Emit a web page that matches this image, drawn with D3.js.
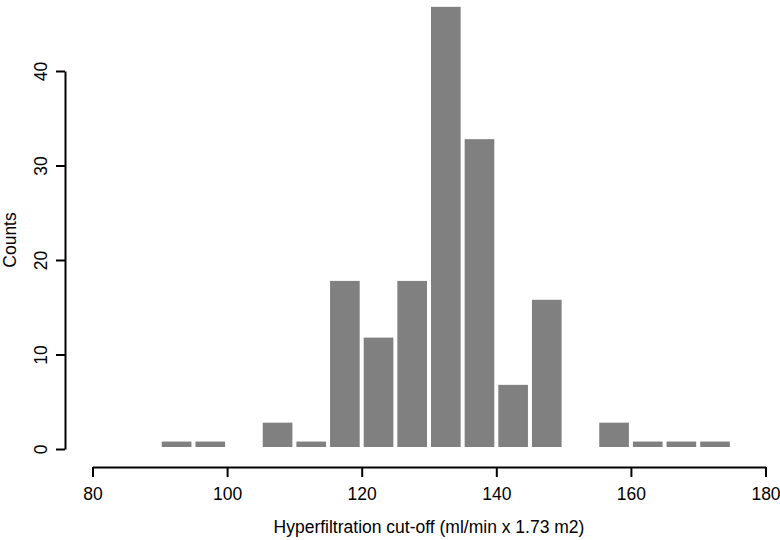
<!DOCTYPE html>
<html lang="en">
<head>
    <meta charset="UTF-8">
    <title>Hyperfiltration cut-off histogram</title>
    <script src="https://d3js.org/d3.v7.min.js"></script>
    <style>
        body {
            margin: 0;
            padding: 0;
            background: #fff;
            font-family: 'Liberation Sans', Arial, sans-serif;
        }
        .axis text {
            font-family: 'Liberation Sans', Arial, sans-serif;
            font-size: 17.5px;
            fill: #000;
        }
    </style>
</head>
<body>
    <script>
        // Datos del histograma (bins de 5 unidades)
        const binStarts = [90, 95, 100, 105, 110, 115, 120, 125, 130, 135, 140, 145, 150, 155, 160, 165, 170];
        const counts = [1, 1, 0, 3, 1, 18, 12, 18, 47, 33, 7, 16, 0, 3, 1, 1, 1];
        const binWidth = 5;
        const xTicks = [80, 100, 120, 140, 160, 180];
        const yTicks = [0, 10, 20, 30, 40];

        const width = 780;
        const height = 540;

        const svg = d3.select("body")
            .append("svg")
            .attr("width", width)
            .attr("height", height);

        // Escalas
        const x = d3.scaleLinear().domain([80, 180]).range([92.5, 765.5]);
        const y = d3.scaleLinear().domain([0, 40]).range([449, 71]);

        const bins = binStarts.map((b, i) => ({ x0: b, x1: b + binWidth, n: counts[i] }));

        // Barras
        svg.append("g")
            .selectAll("rect")
            .data(bins.filter(d => d.n > 0))
            .enter()
            .append("rect")
            .attr("x", d => x(d.x0) + 2)
            .attr("width", d => x(d.x1) - x(d.x0) - 4)
            .attr("y", d => y(d.n) + 2)
            .attr("height", d => y(0) - y(d.n) - 4)
            .attr("fill", "#808080");

        // Eje X
        const xAxis = svg.append("g")
            .attr("class", "axis")
            .attr("transform", "translate(0,467)")
            .call(d3.axisBottom(x).tickValues(xTicks).tickSize(10).tickPadding(11).tickSizeOuter(0));
        xAxis.select(".domain").attr("stroke", "#000").attr("stroke-width", 2);
        xAxis.selectAll(".tick line").attr("stroke", "#000").attr("stroke-width", 2);

        // Eje Y
        const yAxis = svg.append("g")
            .attr("class", "axis")
            .attr("transform", "translate(65,0)")
            .call(d3.axisLeft(y).tickValues(yTicks).tickSize(9).tickSizeOuter(0));
        yAxis.select(".domain").attr("stroke", "#000").attr("stroke-width", 2);
        yAxis.selectAll(".tick line").attr("stroke", "#000").attr("stroke-width", 2);
        yAxis.selectAll(".tick text")
            .attr("x", 0)
            .attr("dy", 0)
            .attr("text-anchor", "middle")
            .attr("transform", "translate(-18,0) rotate(-90)");

        // Títulos de ejes
        svg.append("text")
            .attr("x", (x(80) + x(180)) / 2)
            .attr("y", 533)
            .attr("text-anchor", "middle")
            .attr("font-size", 17.5)
            .text("Hyperfiltration cut-off (ml/min x 1.73 m2)");

        svg.append("text")
            .attr("transform", "translate(16,240) rotate(-90)")
            .attr("text-anchor", "middle")
            .attr("font-size", 17.5)
            .text("Counts");
    </script>
</body>
</html>
